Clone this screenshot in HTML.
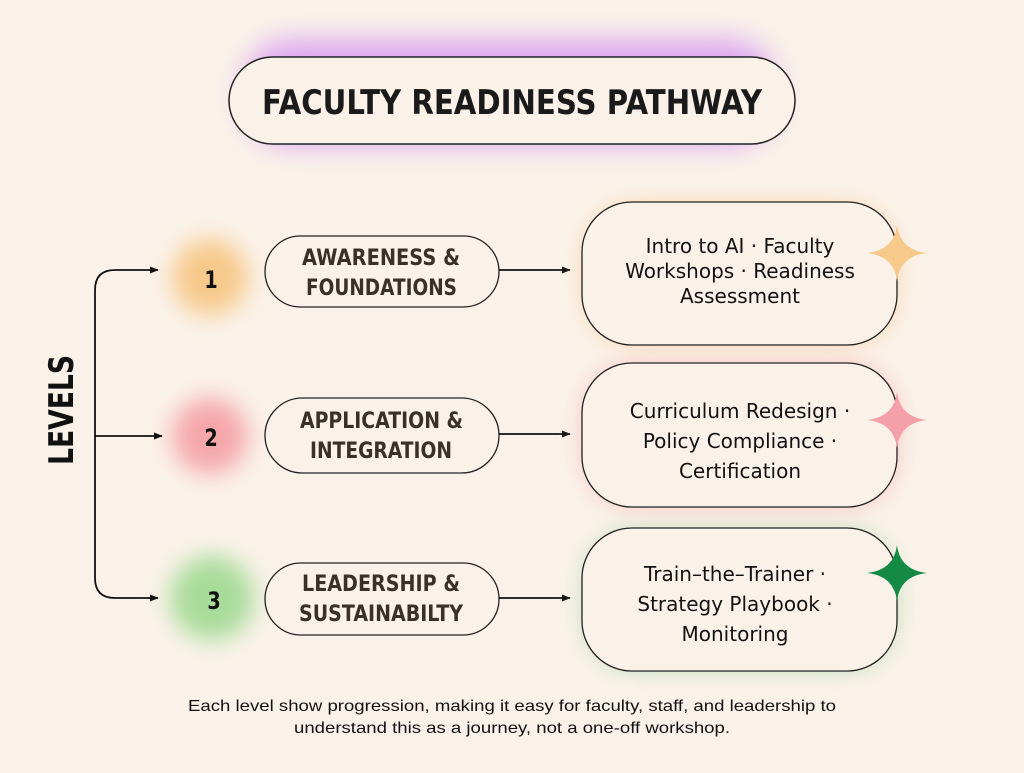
<!DOCTYPE html>
<html><head><meta charset="utf-8"><style>
html,body{margin:0;padding:0;background:#faf2e9;}
body{width:1024px;height:768px;overflow:hidden;position:relative;}
.h{font-family:"DejaVu Sans","Liberation Sans",sans-serif;font-weight:bold;}
.b{font-family:"DejaVu Sans","Liberation Sans",sans-serif;}
</style></head><body>
<svg width="1024" height="768" viewBox="0 0 1024 768" xmlns="http://www.w3.org/2000/svg">
<defs>
<filter id="glow" x="-50%" y="-50%" width="200%" height="200%"><feGaussianBlur stdDeviation="14"/></filter>
<filter id="g2" x="-50%" y="-50%" width="200%" height="200%"><feGaussianBlur stdDeviation="12"/></filter>
<marker id="ar" viewBox="0 0 10 10" refX="9" refY="5" markerWidth="5" markerHeight="5" orient="auto"><path d="M0,1 L10,5 L0,9 z" fill="#111"/></marker>
</defs>
<rect width="1024" height="768" fill="#faf2e9"/>
<rect x="245" y="40" width="530" height="105" rx="45" fill="#dba4f2" filter="url(#glow)"/>
<rect x="229" y="57" width="566" height="87" rx="43.5" fill="#faf2e9" stroke="#222" stroke-width="1.5"/>
<text x="262" y="114" textLength="500" lengthAdjust="spacingAndGlyphs" class="h" font-size="34" fill="#1a1a1a">FACULTY READINESS PATHWAY</text>

<circle cx="210" cy="277" r="38" fill="#f7c98a" filter="url(#g2)"/>
<circle cx="210" cy="436" r="38" fill="#f5a7aa" filter="url(#g2)"/>
<circle cx="212" cy="598" r="42" fill="#a8dc9a" filter="url(#g2)"/>
<text x="211" y="288" text-anchor="middle" class="h" font-size="24" fill="#111" transform="translate(211,0) scale(0.8,1) translate(-211,0)">1</text>
<text x="211" y="446" text-anchor="middle" class="h" font-size="24" fill="#111" transform="translate(211,0) scale(0.8,1) translate(-211,0)">2</text>
<text x="214" y="609" text-anchor="middle" class="h" font-size="24" fill="#111" transform="translate(214,0) scale(0.8,1) translate(-214,0)">3</text>

<path d="M95,434 L95,290 Q95,270 115,270 L158,270" fill="none" stroke="#111" stroke-width="1.8" marker-end="url(#ar)"/>
<path d="M95,434 L95,578 Q95,598 115,598 L158,598" fill="none" stroke="#111" stroke-width="1.8" marker-end="url(#ar)"/>
<path d="M95,436 L162,436" stroke="#111" stroke-width="1.8" marker-end="url(#ar)"/>
<text transform="translate(73,410) rotate(-90)" x="-55" y="0" textLength="110" lengthAdjust="spacingAndGlyphs" class="h" font-size="34" fill="#111">LEVELS</text>

<g class="h" font-size="22" fill="#3a302a">
<rect x="265" y="236" width="234" height="71" rx="35.5" fill="#faf2e9" stroke="#222" stroke-width="1.3"/>
<text x="302" y="265" textLength="158" lengthAdjust="spacingAndGlyphs">AWARENESS &amp;</text>
<text x="306" y="295" textLength="151" lengthAdjust="spacingAndGlyphs">FOUNDATIONS</text>
<rect x="265" y="398" width="234" height="75" rx="37.5" fill="#faf2e9" stroke="#222" stroke-width="1.3"/>
<text x="300" y="428" textLength="163" lengthAdjust="spacingAndGlyphs">APPLICATION &amp;</text>
<text x="310" y="458" textLength="142" lengthAdjust="spacingAndGlyphs">INTEGRATION</text>
<rect x="265" y="563" width="234" height="72" rx="36" fill="#faf2e9" stroke="#222" stroke-width="1.3"/>
<text x="302" y="591" textLength="158" lengthAdjust="spacingAndGlyphs">LEADERSHIP &amp;</text>
<text x="299" y="621" textLength="164" lengthAdjust="spacingAndGlyphs">SUSTAINABILTY</text>
</g>

<path d="M499,270 L570,270" stroke="#111" stroke-width="1.8" marker-end="url(#ar)"/>
<path d="M499,434 L570,434" stroke="#111" stroke-width="1.8" marker-end="url(#ar)"/>
<path d="M499,598 L570,598" stroke="#111" stroke-width="1.8" marker-end="url(#ar)"/>

<rect x="585" y="205" width="310" height="138" rx="50" fill="#f7d3a8" filter="url(#g2)"/>
<rect x="585" y="366" width="310" height="138" rx="50" fill="#f3b8b8" filter="url(#g2)"/>
<rect x="585" y="531" width="310" height="138" rx="50" fill="#b9dcb7" filter="url(#g2)"/>
<rect x="582" y="202" width="315" height="143" rx="50" fill="#faf2e9" stroke="#222" stroke-width="1.3"/>
<rect x="582" y="363" width="315" height="144" rx="50" fill="#faf2e9" stroke="#222" stroke-width="1.3"/>
<rect x="582" y="528" width="315" height="143" rx="50" fill="#faf2e9" stroke="#222" stroke-width="1.3"/>
<g class="b" font-size="20" fill="#111" text-anchor="middle">
<text x="740" y="253">Intro to AI · Faculty</text>
<text x="740" y="278">Workshops · Readiness</text>
<text x="740" y="303">Assessment</text>
<text x="740" y="418">Curriculum Redesign ·</text>
<text x="740" y="448">Policy Compliance ·</text>
<text x="740" y="478">Certification</text>
<text x="735" y="581">Train–the–Trainer ·</text>
<text x="735" y="611">Strategy Playbook ·</text>
<text x="735" y="641">Monitoring</text>
</g>
<path d="M897,225 Q900,250 927,253 Q900,256 897,281 Q894,256 867,253 Q894,250 897,225 z" fill="#f7c98a"/>
<path d="M897,392 Q900,417 927,420 Q900,423 897,448 Q894,423 867,420 Q894,417 897,392 z" fill="#f5a0a8"/>
<path d="M897,545 Q900,570 927,573 Q900,576 897,601 Q894,576 867,573 Q894,570 897,545 z" fill="#148a44"/>

<g font-family="Liberation Sans,sans-serif" font-size="16" fill="#111">
<text x="188" y="711" textLength="648" lengthAdjust="spacingAndGlyphs">Each level show progression, making it easy for faculty, staff, and leadership to</text>
<text x="294" y="733" textLength="436" lengthAdjust="spacingAndGlyphs">understand this as a journey, not a one-off workshop.</text>
</g>
</svg>
</body></html>
